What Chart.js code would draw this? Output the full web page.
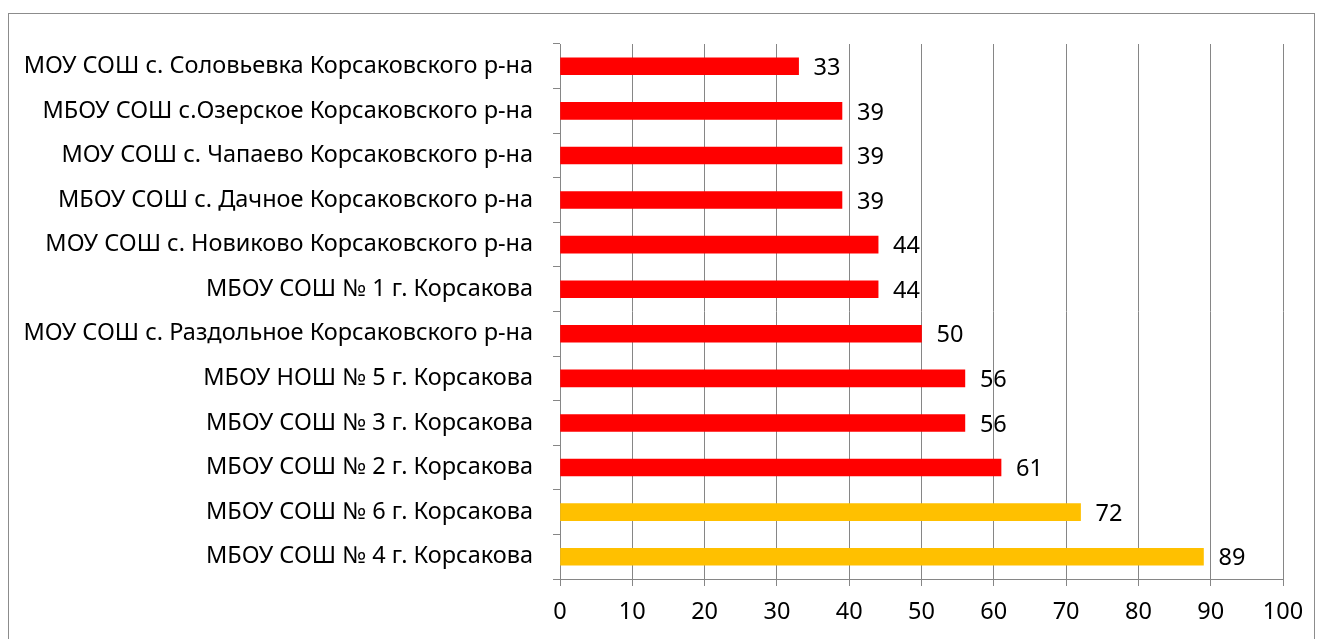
<!DOCTYPE html>
<html>
<head>
<meta charset="utf-8">
<script src="https://cdn.jsdelivr.net/npm/chart.js@4"></script>
<style>
  html, body { margin: 0; padding: 0; background: #fff; }
  #wrap { width: 1322px; height: 639px; }
</style>
</head>
<body>
<div id="wrap"><canvas id="chart" width="1322" height="639"></canvas></div>
<script>
const schools = [
  "МОУ СОШ с. Соловьевка Корсаковского р-на",
  "МБОУ СОШ с.Озерское Корсаковского р-на",
  "МОУ СОШ с. Чапаево Корсаковского р-на",
  "МБОУ СОШ с. Дачное Корсаковского р-на",
  "МОУ СОШ с. Новиково Корсаковского р-на",
  "МБОУ СОШ № 1 г. Корсакова",
  "МОУ СОШ с. Раздольное Корсаковского р-на",
  "МБОУ НОШ № 5 г. Корсакова",
  "МБОУ СОШ № 3 г. Корсакова",
  "МБОУ СОШ № 2 г. Корсакова",
  "МБОУ СОШ № 6 г. Корсакова",
  "МБОУ СОШ № 4 г. Корсакова"
];
const scores = [33, 39, 39, 39, 44, 44, 50, 56, 56, 61, 72, 89];
const barColors = ["#FF0000", "#FF0000", "#FF0000", "#FF0000", "#FF0000", "#FF0000",
                   "#FF0000", "#FF0000", "#FF0000", "#FF0000", "#FFC000", "#FFC000"];

const FONT = "'Noto Sans', sans-serif";
const FSIZE = 23.5;
const GRID = "#868686";

// outer frame of the chart box
const frame = {
  id: "frame",
  beforeDraw(chart) {
    const ctx = chart.ctx;
    ctx.save();
    ctx.strokeStyle = "#8c8c8c";
    ctx.lineWidth = 1;
    ctx.strokeRect(8.5, 13.5, 1306, 700);
    ctx.restore();
  }
};

const valueLabels = {
  id: "valueLabels",
  afterDatasetsDraw(chart) {
    const ctx = chart.ctx;
    const meta = chart.getDatasetMeta(0);
    ctx.save();
    ctx.font = FSIZE + "px " + FONT;
    ctx.fillStyle = "#000";
    ctx.textAlign = "left";
    ctx.textBaseline = "middle";
    meta.data.forEach((bar, i) => {
      ctx.fillText(String(scores[i]), bar.x + 15, bar.y + 2);
    });
    ctx.restore();
  }
};

new Chart(document.getElementById("chart"), {
  type: "bar",
  data: {
    labels: schools,
    datasets: [{
      data: scores,
      backgroundColor: barColors,
      barThickness: 17
    }]
  },
  options: {
    indexAxis: "y",
    responsive: false,
    animation: false,
    layout: { padding: { top: 44, right: 39, left: 0, bottom: 0 } },
    plugins: { legend: { display: false }, tooltip: { enabled: false } },
    scales: {
      x: {
        min: 0, max: 100,
        ticks: { stepSize: 10, color: "#000", font: { family: FONT, size: FSIZE }, padding: 12 },
        grid: { color: GRID, tickLength: 7, lineWidth: 1 },
        border: { color: GRID },
        afterFit(s) { s.height = 60; }
      },
      y: {
        ticks: { color: "#000", font: { family: FONT, size: FSIZE }, padding: 20 },
        grid: { drawOnChartArea: false, color: GRID, tickLength: 7 },
        border: { color: GRID },
        afterFit(s) { s.width = 560; }
      }
    }
  },
  plugins: [frame, valueLabels]
});
</script>
</body>
</html>
